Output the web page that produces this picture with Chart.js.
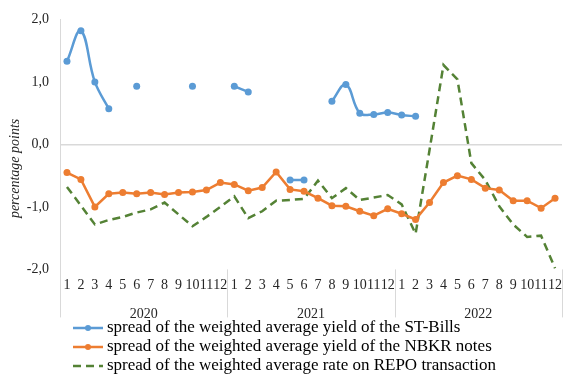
<!DOCTYPE html>
<html>
<head>
<meta charset="utf-8">
<script src="https://cdn.jsdelivr.net/npm/chart.js@4/dist/chart.umd.min.js"></script>
<style>
  html, body { margin: 0; padding: 0; background: #fff; }
  #wrap { width: 566px; height: 378px; position: relative; }
</style>
</head>
<body>
<div id="wrap"><canvas id="spready"></canvas></div>
<script>
const months = ['1','2','3','4','5','6','7','8','9','10','11','12'];
const years = ['2020', '2021', '2022'];

const stBills = [
  1.33, 1.82, 1.00, 0.57, null, 0.93, null, null, null, 0.93, null, null,
  0.93, 0.84, null, null, -0.57, -0.57, null, 0.69, 0.96, 0.50, 0.48, 0.51,
  0.47, 0.45, null, null, null, null, null, null, null, null, null, null
];
const nbkrNotes = [
  -0.45, -0.56, -1.00, -0.79, -0.77, -0.79, -0.77, -0.80, -0.77, -0.76, -0.73, -0.61,
  -0.64, -0.74, -0.69, -0.44, -0.72, -0.75, -0.86, -0.98, -0.99, -1.07, -1.14, -1.03,
  -1.11, -1.20, -0.93, -0.61, -0.50, -0.56, -0.70, -0.73, -0.90, -0.90, -1.02, -0.86
];
const repo = [
  -0.68, -0.98, -1.28, -1.21, -1.16, -1.09, -1.04, -0.93, -1.12, -1.31, -1.16, -1.00,
  -0.83, -1.18, -1.07, -0.90, -0.89, -0.87, -0.58, -0.86, -0.70, -0.89, -0.85, -0.81,
  -0.96, -1.43, -0.09, 1.27, 1.04, -0.30, -0.57, -0.99, -1.28, -1.48, -1.46, -1.98
];
const yTitle = 'percentage points';

let labels = [];
years.forEach(() => { labels = labels.concat(months); });

const serif = "'Liberation Serif', 'Times New Roman', serif";
const textColor = '#262626';
const lineGray = '#d9d9d9';

// let the plot run to the right edge, like the Excel original (last label gets clipped)
const noSidePad = (scale) => { scale.paddingLeft = 0; scale.paddingRight = 0; };

// year separators, axis title and Excel-like legend
const extras = {
  id: 'extras',
  afterDraw(chart) {
    const ctx = chart.ctx;
    const x = chart.scales.x;
    const area = chart.chartArea;
    const half = (x.getPixelForValue(1) - x.getPixelForValue(0)) / 2;
    const sepEnd = area.bottom + 48;
    ctx.save();
    ctx.strokeStyle = lineGray;
    ctx.lineWidth = 1;
    for (let i = 0; i <= labels.length; i += months.length) {
      const px = Math.round(x.getPixelForValue(i) - half) + 0.5;
      ctx.beginPath();
      ctx.moveTo(px, area.bottom);
      ctx.lineTo(px, sepEnd);
      ctx.stroke();
    }
    ctx.restore();

    // y title, centred on plot + category axes like in Excel
    ctx.save();
    ctx.translate(15, (area.top + sepEnd) / 2);
    ctx.rotate(-Math.PI / 2);
    ctx.font = 'italic 14px ' + serif;
    ctx.fillStyle = textColor;
    ctx.textAlign = 'center';
    ctx.textBaseline = 'middle';
    ctx.fillText(yTitle, 0, 0);
    ctx.restore();

    // legend
    ctx.save();
    ctx.font = '17px ' + serif;
    ctx.textBaseline = 'middle';
    chart.data.datasets.forEach((ds, i) => {
      const y = chart.height - 50 + i * 19;
      const lx = 73;
      ctx.strokeStyle = ds.borderColor;
      ctx.lineWidth = ds.borderWidth;
      ctx.setLineDash(ds.borderDash || []);
      ctx.beginPath();
      ctx.moveTo(lx, y);
      ctx.lineTo(lx + 30, y);
      ctx.stroke();
      ctx.setLineDash([]);
      if (ds.pointRadius > 0) {
        ctx.fillStyle = ds.borderColor;
        ctx.beginPath();
        ctx.arc(lx + 15, y, 3, 0, Math.PI * 2);
        ctx.fill();
      }
      ctx.fillStyle = '#000';
      ctx.fillText(ds.label, lx + 34, y);
    });
    ctx.restore();
  }
};

new Chart('spready', {
  type: 'line',
  data: {
    labels: labels,
    datasets: [{
      label: 'spread of the weighted average yield of the ST-Bills',
      data: stBills,
      borderColor: '#5B9BD5',
      backgroundColor: '#5B9BD5',
      borderWidth: 2.5,
      pointRadius: 3.5,
      pointBorderWidth: 0,
      tension: 0.4,
      spanGaps: false
    }, {
      label: 'spread of the weighted average yield of the NBKR notes',
      data: nbkrNotes,
      borderColor: '#ED7D31',
      backgroundColor: '#ED7D31',
      borderWidth: 2.5,
      pointRadius: 3.5,
      pointBorderWidth: 0,
      tension: 0
    }, {
      label: 'spread of the weighted average rate on REPO transaction',
      data: repo,
      borderColor: '#548235',
      backgroundColor: '#548235',
      borderWidth: 2.5,
      borderDash: [8, 5],
      pointRadius: 0,
      tension: 0
    }]
  },
  options: {
    responsive: true,
    maintainAspectRatio: false,
    animation: false,
    layout: { padding: { top: 10, right: 0, bottom: 51, left: 0 } },
    plugins: {
      legend: { display: false },
      tooltip: { enabled: false }
    },
    scales: {
      x: {
        offset: true,
        afterFit: noSidePad,
        grid: { display: false, drawTicks: false },
        border: { display: false },
        ticks: {
          autoSkip: false,
          maxRotation: 0,
          padding: 8,
          color: textColor,
          font: { family: serif, size: 14 }
        }
      },
      x2: {
        type: 'category',
        labels: years,
        position: 'bottom',
        weight: 1,
        offset: true,
        afterFit: noSidePad,
        grid: { display: false, drawTicks: false },
        border: { display: false },
        ticks: {
          maxRotation: 0,
          padding: 4,
          color: textColor,
          font: { family: serif, size: 14 }
        }
      },
      y: {
        min: -2,
        max: 2,
        afterFit: (scale) => { scale.width = 60; },
        ticks: {
          stepSize: 1,
          padding: 11,
          color: textColor,
          font: { family: serif, size: 14 },
          callback: (v) => v.toFixed(1).replace('.', ',')
        },
        grid: {
          drawTicks: false,
          color: (c) => c.tick && c.tick.value === 0 ? lineGray : 'rgba(0,0,0,0)',
          lineWidth: 1.5
        },
        border: { display: true, color: lineGray }
      }
    }
  },
  plugins: [extras]
});
</script>
</body>
</html>
